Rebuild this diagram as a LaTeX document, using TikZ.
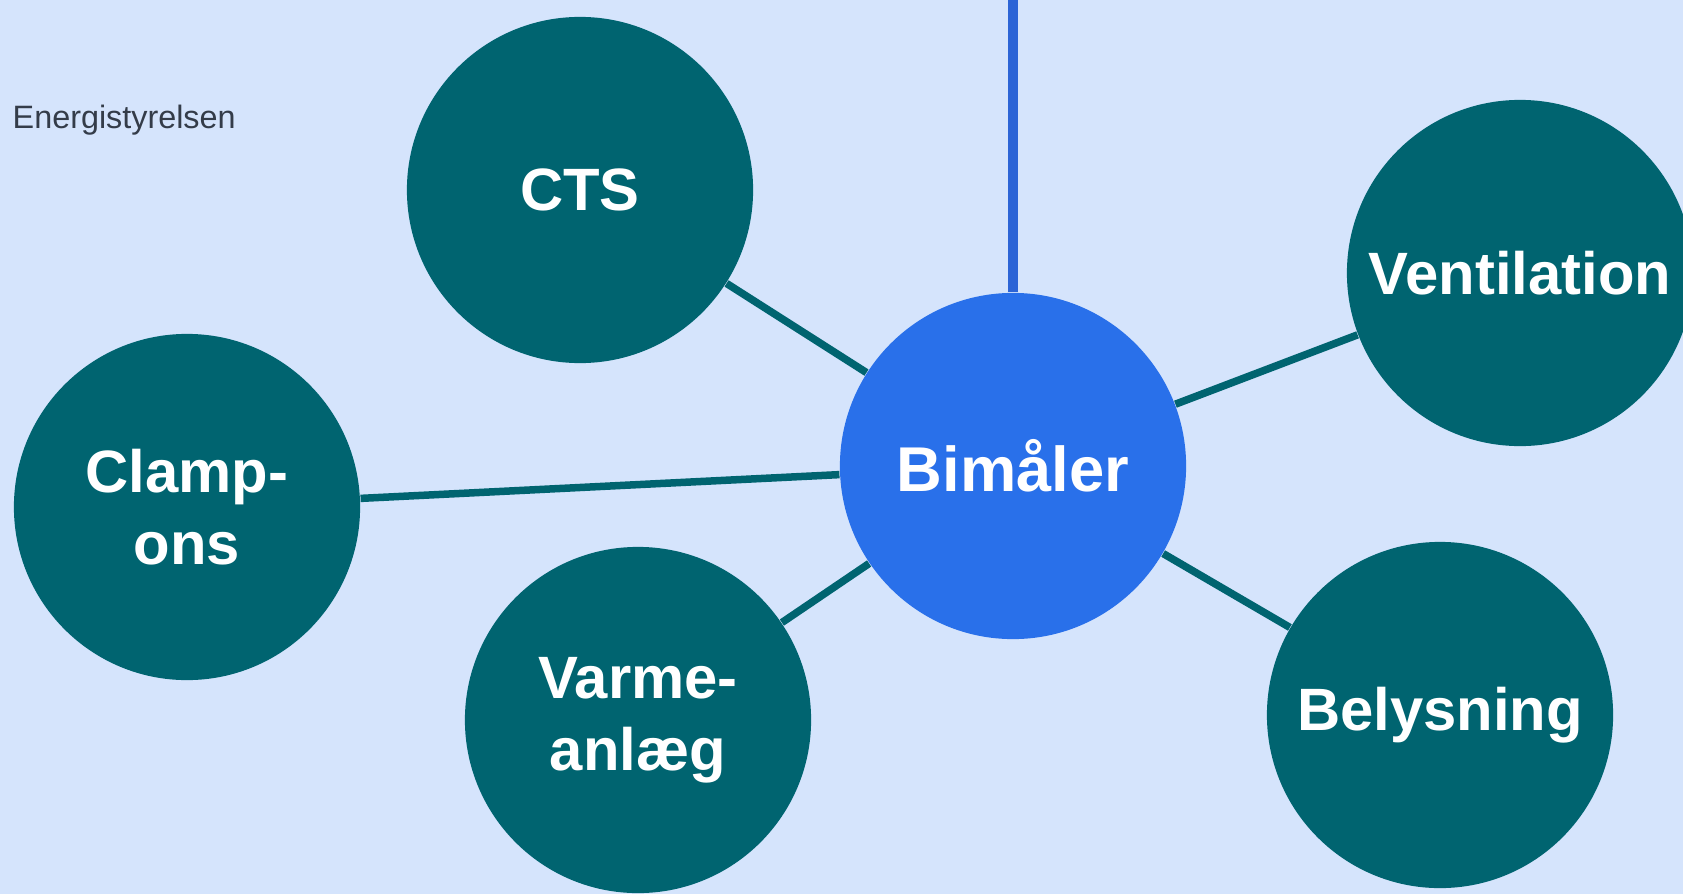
\documentclass[tikz,border=0pt]{standalone}
\usepackage{fontspec}
\setmainfont{Liberation Sans}
\usepackage{tikz}
\usetikzlibrary{positioning}
\definecolor{bgblue}{HTML}{D5E4FC}
\definecolor{hubblue}{HTML}{2970EA}
\definecolor{lineblue}{HTML}{2C64D6}
\definecolor{teal}{HTML}{006470}
\definecolor{txtgray}{HTML}{343C49}

\begin{document}
\begin{tikzpicture}[x=0.01cm, y=-0.01cm,
  leaf/.style={circle, fill=teal, text=white, inner sep=0pt, minimum size=3.46cm, align=center, font=\fontsize{17}{20.5}\selectfont\bfseries},
  hub/.style={leaf, fill=hubblue, font=\fontsize{18}{20}\selectfont\bfseries},
  link/.style={draw=teal, line width=0.075cm}]
\fill[bgblue] (0,0) rectangle (1683,894);
\useasboundingbox (0,0) rectangle (1683,894);
\node[anchor=west, text=txtgray, font=\fontsize{9.2}{11}\selectfont, inner sep=0pt] (src) at (12,120) {Energistyrelsen};
\node[hub] (bim) at (1013,466) {Bimåler};
\coordinate (top) at (1013,0);
\draw[lineblue, line width=0.1cm] (top) -- (bim);
\foreach \n/\x/\y/\t in {cts/580/190/CTS, vent/1520/273/Ventilation, clamp/187/507/{Clamp-\\ons}, varme/638/720/{Varme-\\anlæg}, bely/1440/715/Belysning}
  { \node[leaf] (\n) at (\x,\y) {\t}; }
\foreach \n in {cts,vent,clamp,varme,bely} { \draw[link] (bim) -- (\n); }
\end{tikzpicture}
\end{document}
